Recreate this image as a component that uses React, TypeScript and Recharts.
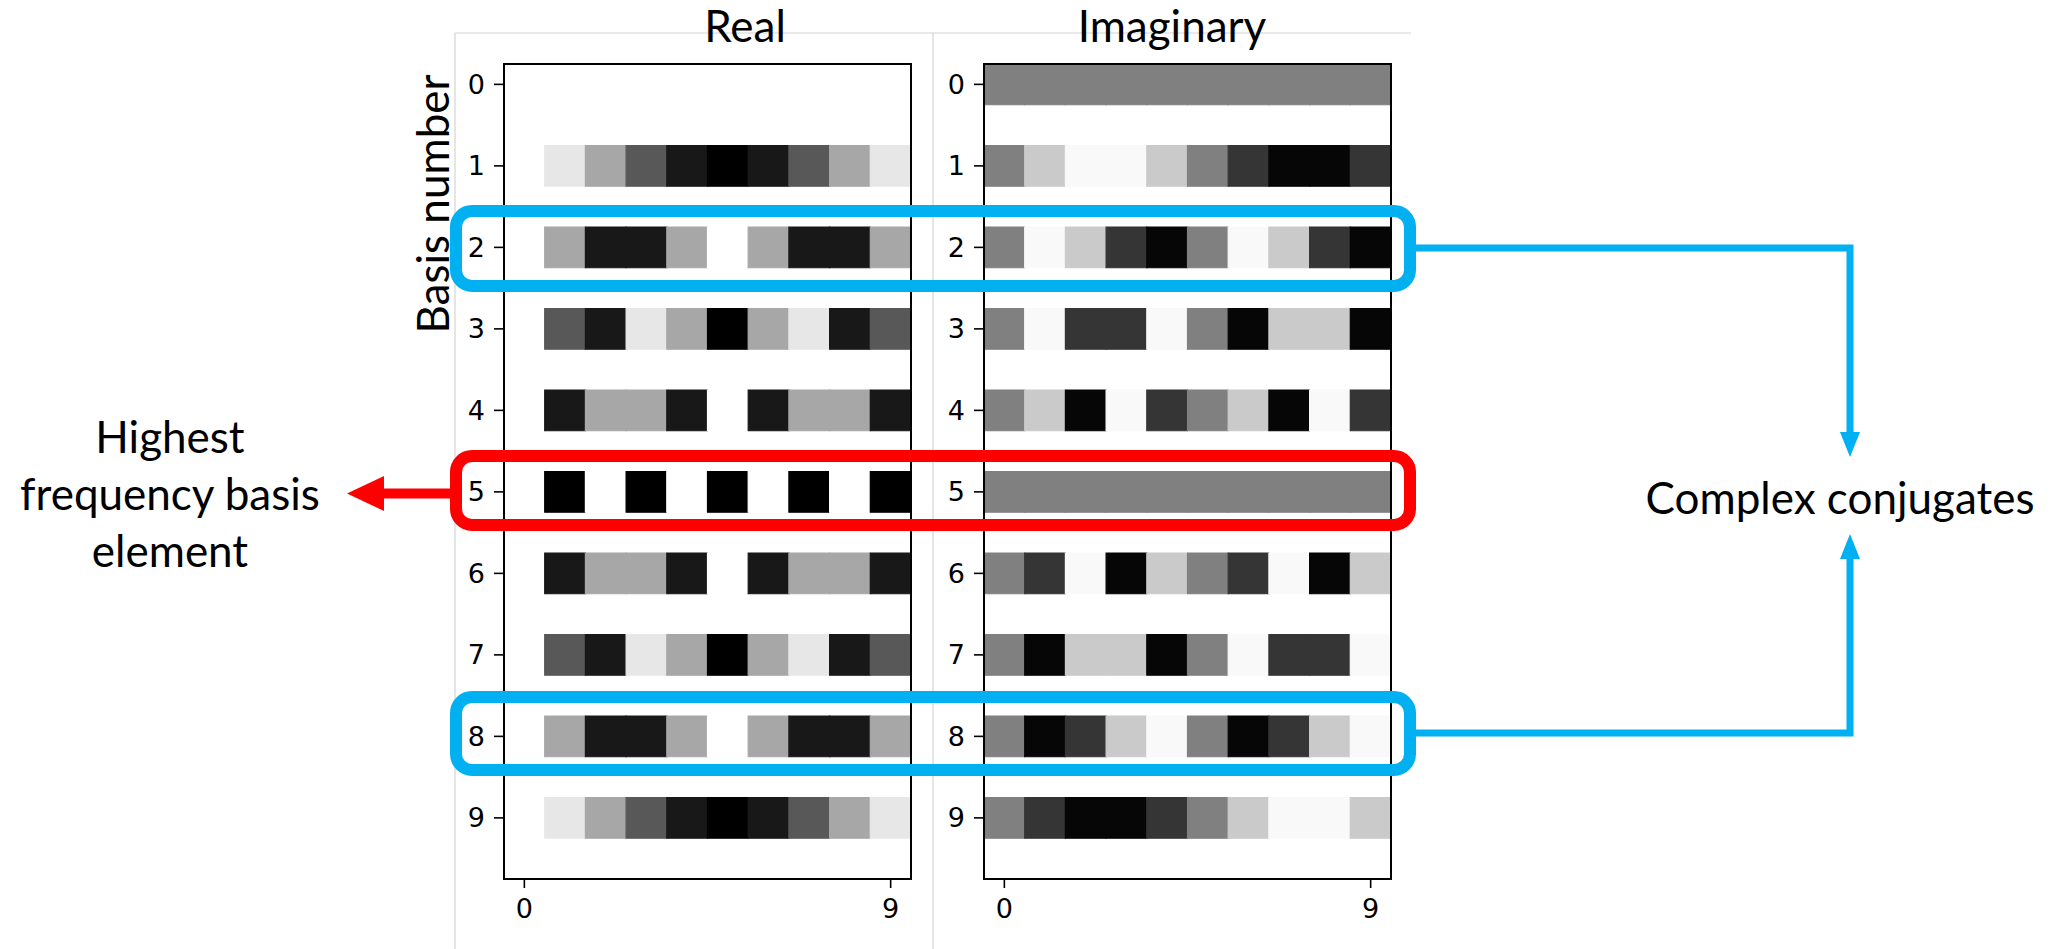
import React from 'react';
import { ScatterChart, XAxis, YAxis, ReferenceArea } from 'recharts';

// DFT basis, N = 10: row k holds the k-th basis vector sampled at n = 0..9
const basisRows = [0, 1, 2, 3, 4, 5, 6, 7, 8, 9];
const sampleTicks = [0, 9];

const realRows: number[][] = [
  [1, 1, 1, 1, 1, 1, 1, 1, 1, 1],
  [1, 0.809, 0.309, -0.309, -0.809, -1, -0.809, -0.309, 0.309, 0.809],
  [1, 0.309, -0.809, -0.809, 0.309, 1, 0.309, -0.809, -0.809, 0.309],
  [1, -0.309, -0.809, 0.809, 0.309, -1, 0.309, 0.809, -0.809, -0.309],
  [1, -0.809, 0.309, 0.309, -0.809, 1, -0.809, 0.309, 0.309, -0.809],
  [1, -1, 1, -1, 1, -1, 1, -1, 1, -1],
  [1, -0.809, 0.309, 0.309, -0.809, 1, -0.809, 0.309, 0.309, -0.809],
  [1, -0.309, -0.809, 0.809, 0.309, -1, 0.309, 0.809, -0.809, -0.309],
  [1, 0.309, -0.809, -0.809, 0.309, 1, 0.309, -0.809, -0.809, 0.309],
  [1, 0.809, 0.309, -0.309, -0.809, -1, -0.809, -0.309, 0.309, 0.809],
];

const imagRows: number[][] = [
  [0, 0, 0, 0, 0, 0, 0, 0, 0, 0],
  [0, 0.588, 0.951, 0.951, 0.588, 0, -0.588, -0.951, -0.951, -0.588],
  [0, 0.951, 0.588, -0.588, -0.951, 0, 0.951, 0.588, -0.588, -0.951],
  [0, 0.951, -0.588, -0.588, 0.951, 0, -0.951, 0.588, 0.588, -0.951],
  [0, 0.588, -0.951, 0.951, -0.588, 0, 0.588, -0.951, 0.951, -0.588],
  [0, 0, 0, 0, 0, 0, 0, 0, 0, 0],
  [0, -0.588, 0.951, -0.951, 0.588, 0, -0.588, 0.951, -0.951, 0.588],
  [0, -0.951, 0.588, 0.588, -0.951, 0, 0.951, -0.588, -0.588, 0.951],
  [0, -0.951, -0.588, 0.588, 0.951, 0, -0.951, -0.588, 0.588, 0.951],
  [0, -0.588, -0.951, -0.951, -0.588, 0, 0.588, 0.951, 0.951, 0.588],
];

const leftNote = ['Highest', 'frequency basis', 'element'];
const rightNote = 'Complex conjugates';

// layout
const PLOT_W = 407;
const PLOT_H = 815;
const PLOT_TOP = 64;
const AXIS_W = 100;
const X_AXIS_H = 70;
const REAL_LEFT = 504;
const IMAG_LEFT = 984;

const BLUE = '#00b0f0';
const RED = '#ff0000';
const NOTE_FONT = 'Lato, "Open Sans", sans-serif';
const TICK_FONT = '"DejaVu Sans", sans-serif';

// matplotlib "gray" colormap over [-1, 1]
const gray = (v: number) => {
  const g = Math.round((255 * (v + 1)) / 2);
  return `rgb(${g},${g},${g})`;
};

const tickStyle = { fill: '#000', fontSize: 27, fontFamily: TICK_FONT };
const tickLine = { stroke: '#000', strokeWidth: 1.6 };

const BasisPanel = ({ rows, left }: { rows: number[][]; left: number }) => (
  <div style={{ position: 'absolute', left: left - AXIS_W, top: 0 }}>
    <ScatterChart
      width={AXIS_W + PLOT_W + 20}
      height={PLOT_TOP + PLOT_H + X_AXIS_H}
      margin={{ top: PLOT_TOP, right: 20, bottom: 0, left: 0 }}
    >
      <XAxis
        type="number"
        dataKey="x"
        domain={[-0.5, 9.5]}
        allowDataOverflow
        ticks={sampleTicks}
        interval={0}
        height={X_AXIS_H}
        axisLine={false}
        tickSize={9}
        tickMargin={11}
        tickLine={tickLine}
        tick={tickStyle}
      />
      <YAxis
        type="number"
        dataKey="y"
        domain={[-0.25, 9.75]}
        allowDataOverflow
        reversed
        ticks={basisRows}
        interval={0}
        width={AXIS_W}
        axisLine={false}
        tickSize={10}
        tickMargin={9}
        tickLine={tickLine}
        tick={tickStyle}
      />
      {rows.flatMap((row, k) =>
        row.map((v, n) => (
          <ReferenceArea
            key={`${k}-${n}`}
            x1={n - 0.5}
            x2={n + 0.5}
            y1={k - 0.25}
            y2={k + 0.25}
            fill={gray(v)}
            fillOpacity={1}
            stroke={gray(v)}
            strokeWidth={1.2}
          />
        ))
      )}
      <ReferenceArea
        x1={-0.5}
        x2={9.5}
        y1={-0.25}
        y2={9.75}
        fill="none"
        stroke="#000"
        strokeWidth={2}
        ifOverflow="visible"
      />
    </ScatterChart>
  </div>
);

export default function App() {
  const boxL = 456;
  const boxR = 1410;
  const linkX = 1850;

  return (
    <div
      style={{
        position: 'absolute',
        left: 0,
        top: 0,
        width: 2062,
        height: 949,
        overflow: 'hidden',
        background: '#fff',
      }}
    >
      {/* faint frame behind the two panels */}
      <svg width={2062} height={949} style={{ position: 'absolute', left: 0, top: 0 }}>
        <g stroke="#d4d4d4" strokeWidth={1.2}>
          <line x1={455} y1={33} x2={1411} y2={33} />
          <line x1={455} y1={33} x2={455} y2={949} />
          <line x1={933} y1={33} x2={933} y2={949} />
        </g>
      </svg>

      <BasisPanel rows={realRows} left={REAL_LEFT} />
      <BasisPanel rows={imagRows} left={IMAG_LEFT} />

      <svg
        width={2062}
        height={949}
        style={{ position: 'absolute', left: 0, top: 0, pointerEvents: 'none' }}
      >
        <g fontFamily={NOTE_FONT} fontSize={44} fill="#000" textAnchor="middle">
          <text x={745} y={42}>Real</text>
          <text x={1172} y={42}>Imaginary</text>
          <text x={449} y={204} transform="rotate(-90 449 204)">
            Basis number
          </text>
          {leftNote.map((t, i) => (
            <text key={t} x={170} y={453 + i * 57}>
              {t}
            </text>
          ))}
          <text x={1840} y={514}>{rightNote}</text>
        </g>

        {/* conjugate pair boxes and the highest-frequency row */}
        <g fill="none" strokeWidth={12}>
          <rect x={boxL} y={211} width={boxR - boxL} height={75} rx={16} stroke={BLUE} />
          <rect x={boxL} y={697} width={boxR - boxL} height={73} rx={16} stroke={BLUE} />
          <rect x={boxL} y={456} width={boxR - boxL} height={69} rx={16} stroke={RED} />
        </g>

        <line x1={450} y1={493.5} x2={380} y2={493.5} stroke={RED} strokeWidth={10} />
        <polygon points="347,493.5 384,476 384,511" fill={RED} />

        <polyline
          points={`${boxR + 6},248 ${linkX},248 ${linkX},434`}
          fill="none"
          stroke={BLUE}
          strokeWidth={7}
        />
        <polygon points={`${linkX},457 ${linkX - 10},432 ${linkX + 10},432`} fill={BLUE} />
        <polyline
          points={`${boxR + 6},733 ${linkX},733 ${linkX},557`}
          fill="none"
          stroke={BLUE}
          strokeWidth={7}
        />
        <polygon points={`${linkX},534 ${linkX - 10},559 ${linkX + 10},559`} fill={BLUE} />
      </svg>
    </div>
  );
}
